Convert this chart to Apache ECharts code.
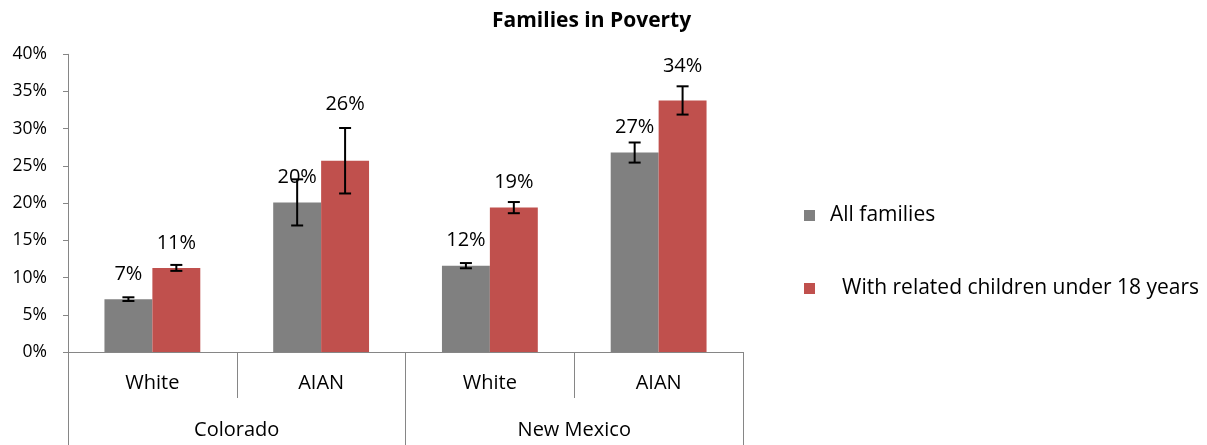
<!DOCTYPE html>
<html>
<head>
<meta charset="utf-8">
<script src="https://cdn.jsdelivr.net/npm/echarts@6/dist/echarts.min.js"></script>
<style>
html,body{margin:0;padding:0;background:#fff;}
#chart{width:1207px;height:445px;}
</style>
</head>
<body>
<div id="chart"></div>
<script>
const groups = ['White', 'AIAN', 'White', 'AIAN'];
const states = ['Colorado', 'New Mexico'];
const seriesNames = ['All families', 'With related children under 18 years'];
const allFamilies = [7.1, 20.1, 11.6, 26.8];
const withChildren = [11.3, 25.7, 19.4, 33.8];
const errAll = [0.25, 3.1, 0.35, 1.35];
const errChildren = [0.4, 4.4, 0.75, 1.9];
const yTicks = { min: 0, max: 40, interval: 5 };

const FONT = '"Open Sans", sans-serif';
const colors = ['#808080', '#C0504D'];
const barFrac = 0.284;
// extra label lifts (style only)
const labelLiftAll = [0, 0, 0, 0];
const labelLiftChildren = [0, 31, 0, 9];

function barData(vals, lifts) {
  return vals.map((v, i) => ({
    value: v,
    label: { offset: [0, -lifts[i]] }
  }));
}
function errData(vals, errs) {
  return vals.map((v, i) => [i, v - errs[i], v + errs[i]]);
}
function errRender(side) {
  return function (params, api) {
    const i = api.value(0);
    const band = api.size([1, 0])[0];
    const lo = api.coord([i, api.value(1)]);
    const hi = api.coord([i, api.value(2)]);
    const x = lo[0] + side * band * barFrac / 2;
    const cap = 6;
    const style = { stroke: '#000', lineWidth: 2 };
    return {
      type: 'group',
      children: [
        { type: 'line', shape: { x1: x, y1: lo[1], x2: x, y2: hi[1] }, style },
        { type: 'line', shape: { x1: x - cap, y1: lo[1], x2: x + cap, y2: lo[1] }, style },
        { type: 'line', shape: { x1: x - cap, y1: hi[1], x2: x + cap, y2: hi[1] }, style }
      ]
    };
  };
}

const chart = echarts.init(document.getElementById('chart'));
chart.setOption({
  animation: false,
  textStyle: { fontFamily: FONT },
  title: {
    text: 'Families in Poverty',
    left: 487, top: 6,
    textStyle: { fontFamily: FONT, fontSize: 21, fontWeight: 'bold', color: '#000' }
  },
  legend: {
    orient: 'vertical',
    left: 799, top: 200,
    itemWidth: 11, itemHeight: 11, itemGap: 52,
    icon: 'rect',
    data: seriesNames,
    formatter: function (name) { return name === seriesNames[1] ? '{p|' + name + '}' : '{q|' + name + '}'; },
    textStyle: {
      fontFamily: FONT, fontSize: 21, color: '#000',
      rich: {
        p: { fontFamily: FONT, fontSize: 21, color: '#000', padding: [0, 0, 0, 22] },
        q: { fontFamily: FONT, fontSize: 21, color: '#000', padding: [0, 0, 0, 10] }
      }
    }
  },
  grid: { left: 68, right: 464, top: 54.3, bottom: 93 },
  xAxis: [
    {
      type: 'category', data: groups, position: 'bottom',
      axisLine: { lineStyle: { color: '#868686', width: 1 } },
      axisTick: { show: true, length: 46, interval: 0, lineStyle: { color: '#868686' } },
      axisLabel: { interval: 0, margin: 21, fontFamily: FONT, fontSize: 20, color: '#000' }
    },
    {
      type: 'category', data: states, position: 'bottom', offset: 0,
      axisLine: { show: false },
      axisTick: { show: true, length: 93, interval: 0, lineStyle: { color: '#868686' } },
      axisLabel: { interval: 0, margin: 68, fontFamily: FONT, fontSize: 20, color: '#000' }
    }
  ],
  yAxis: {
    type: 'value', min: yTicks.min, max: yTicks.max, interval: yTicks.interval,
    axisLine: { show: true, lineStyle: { color: '#868686' } },
    axisTick: { show: true, length: 5, lineStyle: { color: '#868686' } },
    splitLine: { show: false },
    axisLabel: { formatter: '{value}%', margin: 21, fontFamily: FONT, fontSize: 17.5, color: '#000' }
  },
  series: [
    {
      name: seriesNames[0], type: 'bar', barWidth: (barFrac * 100) + '%', barGap: '0%',
      itemStyle: { color: colors[0] },
      data: barData(allFamilies, labelLiftAll),
      label: {
        show: true, position: 'top', distance: 15,
        formatter: p => Math.round(p.value) + '%',
        fontFamily: FONT, fontSize: 20, color: '#000'
      }
    },
    {
      name: seriesNames[1], type: 'bar', barWidth: (barFrac * 100) + '%', barGap: '0%',
      itemStyle: { color: colors[1] },
      data: barData(withChildren, labelLiftChildren),
      label: {
        show: true, position: 'top', distance: 15,
        formatter: p => Math.round(p.value) + '%',
        fontFamily: FONT, fontSize: 20, color: '#000'
      }
    },
    {
      type: 'custom', name: 'errAll', renderItem: errRender(-1),
      data: errData(allFamilies, errAll), z: 10, silent: true,
      encode: { x: 0, y: [1, 2] }
    },
    {
      type: 'custom', name: 'errChildren', renderItem: errRender(1),
      data: errData(withChildren, errChildren), z: 10, silent: true,
      encode: { x: 0, y: [1, 2] }
    }
  ]
});
</script>
</body>
</html>
